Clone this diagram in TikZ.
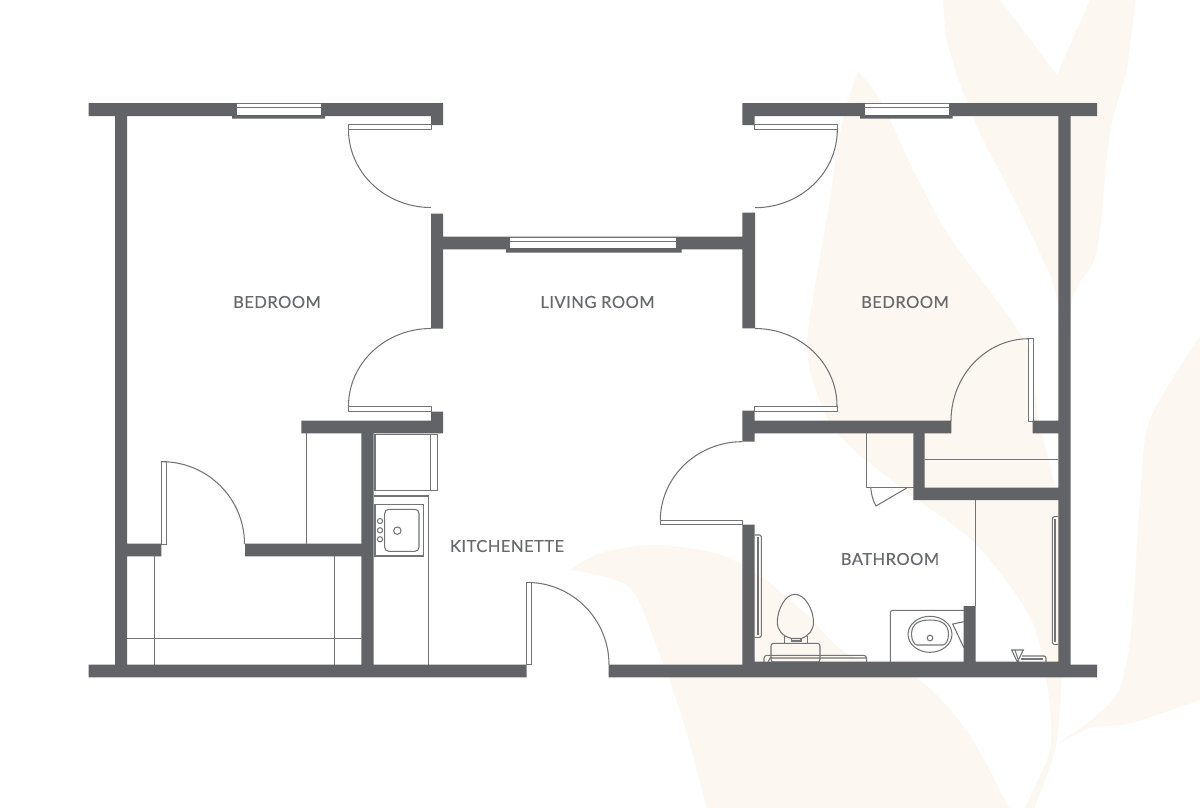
\documentclass[tikz,border=0pt]{standalone}
\usepackage{fontspec}
\setmainfont[LetterSpace=3,FakeBold=0.25]{Lato}
\definecolor{wallgrey}{HTML}{626366}
\definecolor{linegrey}{HTML}{737476}
\definecolor{textgrey}{HTML}{68696C}
\definecolor{leafcream}{HTML}{FCF7F1}
\tikzset{
	wall/.style={fill=wallgrey},
	leaf/.style={fill=leafcream},
	thin line/.style={draw=linegrey,line width=1.05pt},
	fixture/.style={draw=linegrey,line width=1.05pt,rounded corners=1.5pt},
	pane/.style={draw=linegrey,line width=0.9pt,fill=white},
	room/.style={text=textgrey,font=\fontsize{16.5}{18}\selectfont,inner sep=0pt,anchor=center}
}
\begin{document}
\begin{tikzpicture}[x=1pt,y=-1pt]
	\useasboundingbox (0,0) rectangle (1200,808);
	\fill[white] (0,0) rectangle (1200,808);
	% leaves behind the plan
	\fill[leaf] plot[smooth] coordinates {(858,72) (848,100) (837,150) (830,200) (818,270) (808,333) (811,375) (837,433) (900,487) (975,543) (1030,617) (1047,683) (1051,745) (1038,780) (1025,808)}
		-- (1034,808) -- plot[smooth] coordinates {(1034,808) (1056,745) (1063,650) (1066,560) (1058,500) (1040,425) (1030,350)}
		-- plot[smooth] coordinates {(1030,350) (1013,323) (985,285) (947,233) (913,170) (880,100) (858,72)} -- cycle;
	\fill[leaf] plot[smooth] coordinates {(943,0) (947,40) (960,83) (980,133) (1013,197) (1040,253) (1057,300) (1060,420)}
		-- plot[smooth] coordinates {(1068,420) (1071,310) (1078,285) (1097,250) (1110,133) (1127,67) (1135,0)}
		-- (1090,0) -- (1057,75) -- (1000,0) -- cycle;
	\fill[leaf] plot[smooth] coordinates {(570,570) (601,553) (654,545) (715,553) (756,573) (805,613) (846,653) (919,680) (968,733) (1009,808)}
		-- plot[smooth] coordinates {(707,808) (682,717) (658,650) (629,587) (570,570)} -- cycle;
	\fill[leaf] plot[smooth] coordinates {(1200,337) (1150,420) (1140,500) (1131,633) (1119,690) (1095,717) (1056,745)}
		-- plot[smooth] coordinates {(1056,745) (1090,728) (1131,723) (1200,700)} -- cycle;
	% fittings
	\draw[thin line] (306.7,433) -- (306.7,544);
	\draw[thin line] (154.7,556) -- (154.7,665);
	\draw[thin line] (334.3,556) -- (334.3,665);
	\draw[thin line] (127,638.3) -- (361,638.3);
	\draw[thin line] (375,434.7) rectangle (437.3,490.7);
	\draw[thin line] (430.7,434.7) -- (430.7,490.7);
	\draw[thin line] (373.7,496) -- (428.3,496) -- (428.3,665);
	\draw[thin line] (375,504.7) rectangle (423.7,556);
	\draw[fixture,rounded corners=4pt] (384.7,509.3) rectangle (419,551.3);
	\foreach \holey in {521,530.3,539.3}
		\draw[thin line] (380,\holey) circle[radius=2.6];
	\draw[thin line] (397.3,530.7) circle[radius=3.7];
	\draw[thin line] (866.7,433) -- (866.7,487.7) -- (913.5,487.7);
	\draw[thin line] (870.7,488) .. controls (871.5,495) and (873,501) .. (876,506) -- (906.7,488);
	\draw[thin line] (924.7,459.7) -- (1058.3,459.7);
	\draw[thin line] (975.7,500) -- (975.7,606);
	% bathroom
	\draw[fixture] (754.7,535) -| (761.3,637.3) -- (754.7,637.3);
	\draw[thin line] (758,537) -- (758,635);
	\draw[fixture] (1058.3,516.7) -| (1052.3,644.3) -- (1058.3,644.3);
	\draw[thin line] (1055,519) -- (1055,642);
	\draw[fixture,rounded corners=3pt] (764,662) |- (866.7,655.3) -- (866.7,662);
	\draw[thin line] (768,662) -- (770,658) -- (866.7,658);
	\draw[thin line] (784.3,636) -- (784.3,643.3) (807.7,636) -- (807.7,643.3);
	\draw[thin line] (791.7,638) -- (791.7,641) -- (801,641) -- (801,638);
	\draw[thin line,fill=none] (795,594.3) .. controls (785,594.3) and (777.3,610) .. (777.3,622)
		.. controls (777.3,630) and (782,636) .. (791.7,638.5) -- (801,638.5)
		.. controls (809,636) and (813.5,630) .. (813.5,622)
		.. controls (813.5,610) and (805,594.3) .. (795,594.3) -- cycle;
	\draw[fixture,rounded corners=2.5pt] (771,643.3) rectangle (820,662);
	\draw[fixture,rounded corners=2.5pt] (890.3,662) |- (964,610.3);
	\draw[thin line] (930,634.3) ellipse[x radius=22,y radius=18];
	\draw[thin line] (911.5,634.3) .. controls (911.5,623) and (920,620) .. (930,620)
		.. controls (940,620) and (948.5,623) .. (948.5,634.3)
		.. controls (948.5,640) and (946,644.5) .. (943,645) -- (917,645) .. controls (914,644.5) and (911.5,640) .. (911.5,634.3) -- cycle;
	\draw[thin line] (930,638) circle[radius=2.8];
	\draw[thin line] (964,621.7) -- (952.7,624) -- (964,648);
	\draw[thin line] (1011.7,650) -- (1023.3,650) -- (1017.3,662) -- cycle;
	\draw[thin line] (1015,650) -- (1019,662);
	\draw[fixture,rounded corners=2pt] (1022,656) -| (1046,662);
	\draw[thin line] (1021,659) -- (1043,659);
	% door leaves and their swings
	\foreach \xa/\ya/\xb/\yb in {348.5/124.5/431/129.5,348.5/406/431/411,161.3/461.7/166.3/544,526.7/582.3/531.7/664.7,754.7/124.7/837.3/129.7,754.7/406/837.3/411,1028.3/338.7/1033.3/421,660/520.7/742.3/524.7}
		\draw[pane] (\xa,\ya) rectangle (\xb,\yb);
	\foreach \cx/\cy/\rx/\ry/\sa/\ea in {431/129.5/82.5/78/180/90,431/406/82.5/77.5/270/180,162/544/82.5/82.3/270/360,527/664.7/82/82.3/270/360,755/129.7/82.3/78/0/90,755/406/82/77.5/270/360,1029/421/78/82.3/270/180,742.3/520.7/82/79/270/180}
		\draw[thin line] (\cx,\cy) ++({\sa}:{\rx} and {\ry}) arc[start angle=\sa,end angle=\ea,x radius=\rx,y radius=\ry];
	% walls
	\fill[wall] (88.5,103) rectangle (443,116) (431,116) rectangle (443,125)
		(232,116) rectangle (325,118.7)
		(115,116) rectangle (127,665)
		(431,213.5) rectangle (443,328.5)
		(443,236.7) rectangle (742.3,249.3)
		(506,249) rectangle (681.7,252.7)
		(742.3,212.7) rectangle (755,328.3)
		(431,411.7) rectangle (443,421) (301.4,420.7) rectangle (443,433.3)
		(361.3,433) rectangle (373.7,665)
		(245,543.7) rectangle (361.3,556.3)
		(127,543.7) rectangle (161.3,556.3)
		(88.5,664.7) rectangle (526.7,677.3)
		(608.7,664.7) rectangle (1097,677.3)
		(742.3,661.7) rectangle (1070.7,677.3)
		(742.3,103) rectangle (1097,116) (742.3,116) rectangle (754.7,125)
		(860,116) rectangle (952.7,118.7)
		(1058.3,116) rectangle (1070.7,665)
		(742.3,410.7) rectangle (754.7,441.7)
		(754.7,420.7) rectangle (951.3,433.3)
		(1032.7,420.7) rectangle (1058.3,433.3)
		(913.3,433) rectangle (924.7,500)
		(913.3,487.7) rectangle (1058.3,500)
		(742.3,524.7) rectangle (754.7,665)
		(963.7,606) rectangle (975.7,665);
	% windows
	\foreach \xa/\xb/\ya/\yb/\ym in {236.5/320.5/103.5/114.5/107.5,510/675.7/237.3/248.3/241.7,864.7/948.7/103.5/114.5/107.5}{
		\fill[white] (\xa,\ya) rectangle (\xb,\yb);
		\draw[thin line,line width=0.7pt] (\xa,\ya) -- (\xb,\ya) (\xa,\ym) -- (\xb,\ym);
	}
	% rooms
	\node[room] (bedroomleft) at (277,302) {BEDROOM};
	\node[room] (livingroom) at (597.5,302) {LIVING ROOM};
	\node[room] (bedroomright) at (905,302) {BEDROOM};
	\node[room] (kitchenette) at (507,546) {KITCHENETTE};
	\node[room] (bathroom) at (890,559) {BATHROOM};
\end{tikzpicture}
\end{document}
